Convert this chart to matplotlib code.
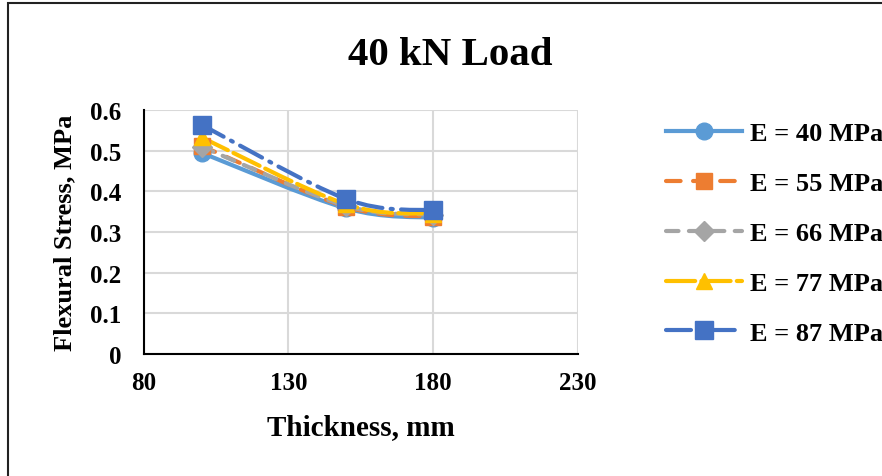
import matplotlib
matplotlib.use("Agg")
import matplotlib.pyplot as plt
from matplotlib.path import Path
from matplotlib.patches import PathPatch, Rectangle
from matplotlib.lines import Line2D
import numpy as np

thickness = [100, 150, 180]
e40 = [0.495, 0.358, 0.335]
e55 = [0.512, 0.362, 0.338]
e66 = [0.510, 0.364, 0.343]
e77 = [0.533, 0.368, 0.345]
e87 = [0.564, 0.381, 0.353]

labels = ["E = 40 MPa", "E = 55 MPa", "E = 66 MPa", "E = 77 MPa", "E = 87 MPa"]
series = [e40, e55, e66, e77, e87]
colors = ["#5B9BD5", "#ED7D31", "#A5A5A5", "#FFC000", "#4472C4"]
markers = ["o", "s", "D", "^", "s"]
msizes = [12, 11, 10, 12, 13]
dashes = [None, (3.5, 3), (3, 2.5), (7, 1.5), (6, 2, 0.5, 2)]

plt.rcParams['font.family'] = ['Liberation Serif', 'DejaVu Serif']
plt.rcParams['font.weight'] = 'bold'

fig = plt.figure(figsize=(8.82, 4.77), dpi=100)
ax = fig.add_axes([0.163, 0.256, 0.492, 0.511])


def smooth_path(xs, ys):
    # bezier segments like Excel's smoothed line
    pts = np.column_stack([xs, ys]).astype(float)
    n = len(pts)
    verts = [pts[0]]
    codes = [Path.MOVETO]
    for i in range(n - 1):
        p0 = pts[i - 1] if i > 0 else pts[i]
        p1 = pts[i]
        p2 = pts[i + 1]
        p3 = pts[i + 2] if i + 2 < n else pts[i + 1]
        c1 = p1 + (p2 - p0) / 6
        c2 = p2 - (p3 - p1) / 6
        verts += [c1, c2, p2]
        codes += [Path.CURVE4] * 3
    return Path(verts, codes)


handles = []
for vals, lab, c, m, ms, d in zip(series, labels, colors, markers, msizes, dashes):
    ls = '-' if d is None else (0, d)
    patch = PathPatch(smooth_path(thickness, vals), facecolor='none', edgecolor=c,
                      lw=3, linestyle=ls, capstyle='round', zorder=3)
    ax.add_patch(patch)
    ax.plot(thickness, vals, linestyle='none', marker=m, ms=ms, color=c, zorder=4)
    h = Line2D([], [], color=c, lw=3, linestyle=ls, marker=m, ms=ms,
               dash_capstyle='round')
    handles.append(h)

ax.set_xlim(80, 230)
ax.set_ylim(0, 0.6)
ax.set_xticks([80, 130, 180, 230])
ax.set_yticks([0, 0.1, 0.2, 0.3, 0.4, 0.5, 0.6])
ax.set_yticklabels(['0', '0.1', '0.2', '0.3', '0.4', '0.5', '0.6'])
ax.tick_params(length=0, labelsize=18)
ax.tick_params(axis='y', pad=16)
ax.tick_params(axis='x', pad=12)
for lbl in ax.get_xticklabels() + ax.get_yticklabels():
    lbl.set_fontweight('bold')
ax.grid(True, color='#D9D9D9', lw=1.5)
ax.set_axisbelow(True)
for s in ['top', 'right']:
    ax.spines[s].set_visible(False)
for s in ['left', 'bottom']:
    ax.spines[s].set_linewidth(1.5)
    ax.spines[s].set_color('black')

ax.set_xlabel('Thickness, mm', fontsize=21, fontweight='bold', labelpad=14)
ax.set_ylabel('Flexural Stress, MPa', fontsize=19, fontweight='bold', labelpad=10)
fig.text(0.511, 0.883, '40 kN Load', ha='center', va='center', fontsize=29.5, fontweight='bold')

fig.legend(handles, labels, loc='center left', bbox_to_anchor=(0.755, 0.509),
           frameon=False, handlelength=2.9, labelspacing=1.0,
           handletextpad=0.3, borderpad=0, borderaxespad=0,
           prop={'weight': 'bold', 'size': 19})

fig.patches.append(Rectangle((0.009, -0.1), 1.1, 1.092, transform=fig.transFigure,
                             fill=False, edgecolor='#222222', lw=1.5))

fig.savefig('out.png', dpi=100)
